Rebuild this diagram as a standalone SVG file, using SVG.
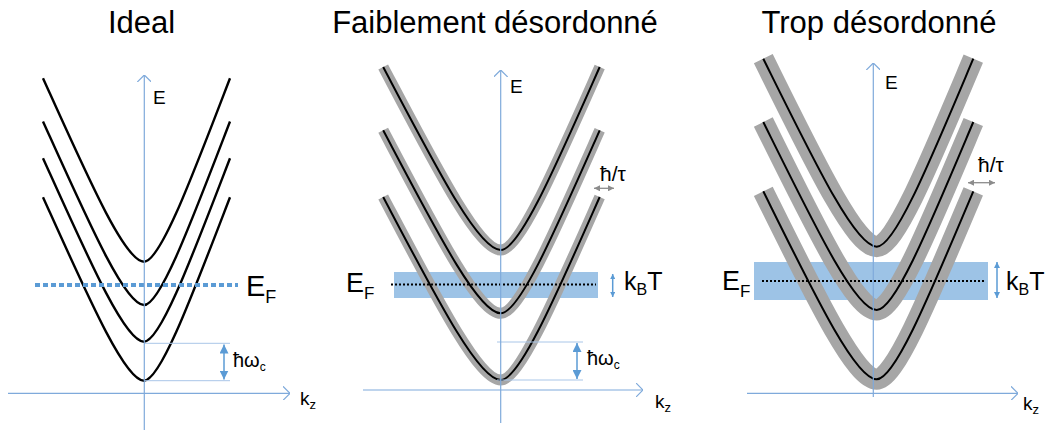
<svg xmlns="http://www.w3.org/2000/svg" width="1049" height="433" viewBox="0 0 1049 433">
<style>
  text { font-family: "Liberation Sans", Arial, sans-serif; fill: #000; }
  .title { font-size: 31px; text-anchor: middle; }
  .lbl { font-size: 19px; }
  .axis { stroke: #7FAADB; stroke-width: 1.2; fill: none; }
  .thin { stroke: #A9C6E8; stroke-width: 1; fill: none; }
  .black { stroke: #000; stroke-width: 2.4; fill: none; }
  .black2 { stroke: #000; stroke-width: 2; fill: none; }
  .gray2 { stroke: #A6A6A6; stroke-width: 11; fill: none; stroke-linecap: butt; }
  .gray3 { stroke: #A6A6A6; stroke-width: 21; fill: none; stroke-linecap: butt; }
  .band { fill: #9DC3E6; }
  .dots { stroke: #000; stroke-width: 2; stroke-dasharray: 2 2; fill: none; }
  .bdash { stroke: #5B9BD5; stroke-width: 4; stroke-dasharray: 5 3; fill: none; }
  .barrow { stroke: #5B9BD5; stroke-width: 1.5; fill: none; }
  .garrow { stroke: #8C8C8C; stroke-width: 1.3; fill: none; }
</style>
<defs>
  <marker id="chev" viewBox="0 0 7 14" refX="7" refY="7" markerWidth="7" markerHeight="14" markerUnits="userSpaceOnUse" orient="auto">
    <path d="M0,0 L7,7 L0,14" fill="none" stroke="#7FAADB" stroke-width="1.2"/>
  </marker>
  <marker id="tb" viewBox="0 0 10 10" refX="10" refY="5" markerWidth="9" markerHeight="9" markerUnits="userSpaceOnUse" orient="auto-start-reverse">
    <path d="M0,0 L10,5 L0,10 z" fill="#5B9BD5"/>
  </marker>
  <marker id="ts" viewBox="0 0 10 10" refX="10" refY="5" markerWidth="5" markerHeight="5" markerUnits="userSpaceOnUse" orient="auto-start-reverse">
    <path d="M0,0 L10,5 L0,10 z" fill="#5B9BD5"/>
  </marker>
  <marker id="tm" viewBox="0 0 10 10" refX="10" refY="5" markerWidth="6" markerHeight="6" markerUnits="userSpaceOnUse" orient="auto-start-reverse">
    <path d="M0,0 L10,5 L0,10 z" fill="#5B9BD5"/>
  </marker>
  <marker id="tg" viewBox="0 0 10 10" refX="10" refY="5" markerWidth="6" markerHeight="6" markerUnits="userSpaceOnUse" orient="auto-start-reverse">
    <path d="M0,0 L10,5 L0,10 z" fill="#8C8C8C"/>
  </marker>
  <path id="p1" d="M-101,-183.5 C-55.55,-82.94 -19.19,0 0,0 C16.34,0 47.3,-82.94 86,-183.5"/>
  <path id="p2" d="M-117.5,-183 C-64.6,-82.7 -22.3,0 0,0 C18.8,0 54.5,-82.7 99,-183"/>
  <path id="p3" d="M-113.4,-188 C-62.4,-85 -21.5,0 0,0 C18.4,0 53.1,-85 96.6,-188"/>
</defs>

<g id="panel-ideal">
  <text class="title" x="141.5" y="33">Ideal</text>
  <g id="ideal-bands">
    <use href="#p1" class="black" transform="translate(144,261.7)"/>
    <use href="#p1" class="black" transform="translate(144,305)"/>
    <use href="#p1" class="black" transform="translate(144,341.7)"/>
    <use href="#p1" class="black" transform="translate(144,380.7)"/>
  </g>
  <g id="ideal-fermi">
    <line class="bdash" x1="35" y1="285" x2="238" y2="285"/>
    <text x="246" y="296" font-size="29">E<tspan font-size="18" dy="7">F</tspan></text>
  </g>
  <g id="ideal-hwc">
    <line class="thin" x1="144" y1="343.3" x2="230" y2="343.3"/>
    <line class="thin" x1="144" y1="380.7" x2="230" y2="380.7"/>
    <line class="barrow" x1="224" y1="344.5" x2="224" y2="379.5" marker-start="url(#tb)" marker-end="url(#tb)"/>
    <text x="233" y="367" font-size="20">ħω<tspan font-size="12" dy="4">c</tspan></text>
  </g>
</g>

<g id="panel-faible">
  <text class="title" x="495" y="33">Faiblement désordonné</text>
  <rect class="band" x="394" y="272" width="204" height="26"/>
  <g id="faible-bands">
    <use href="#p2" class="gray2" transform="translate(500.7,250)"/>
    <use href="#p2" class="black2" transform="translate(500.7,250)"/>
    <use href="#p2" class="gray2" transform="translate(500.7,313.3)"/>
    <use href="#p2" class="black2" transform="translate(500.7,313.3)"/>
    <use href="#p2" class="gray2" transform="translate(500.7,380)"/>
    <use href="#p2" class="black2" transform="translate(500.7,380)"/>
  </g>
  <g id="faible-fermi">
    <line class="dots" x1="391" y1="284.5" x2="596" y2="284.5"/>
    <text x="346" y="292" font-size="27">E<tspan font-size="17" dy="7">F</tspan></text>
    <line class="barrow" x1="612.7" y1="274" x2="612.7" y2="297" stroke-width="1" marker-start="url(#ts)" marker-end="url(#ts)"/>
    <text x="624" y="290" font-size="25">k<tspan font-size="16" dy="5">B</tspan><tspan dy="-5">T</tspan></text>
  </g>
  <g id="faible-tau">
    <line class="garrow" x1="594" y1="188.3" x2="614" y2="188.3" marker-start="url(#tg)" marker-end="url(#tg)"/>
    <text x="600" y="181" font-size="21">ħ/τ</text>
  </g>
  <g id="faible-hwc">
    <line class="thin" x1="497" y1="342" x2="583" y2="342"/>
    <line class="thin" x1="497" y1="380" x2="583" y2="380"/>
    <line class="barrow" x1="577" y1="343" x2="577" y2="379" marker-start="url(#tb)" marker-end="url(#tb)"/>
    <text x="587" y="365" font-size="20">ħω<tspan font-size="12" dy="4">c</tspan></text>
  </g>
</g>

<g id="panel-trop">
  <text class="title" x="879" y="33">Trop désordonné</text>
  <rect class="band" x="754" y="262" width="234" height="38"/>
  <g id="trop-bands">
    <use href="#p3" class="gray3" transform="translate(876.7,246.7)"/>
    <use href="#p3" class="black2" transform="translate(876.7,246.7)"/>
    <use href="#p3" class="gray3" transform="translate(876.7,310)"/>
    <use href="#p3" class="black2" transform="translate(876.7,310)"/>
    <use href="#p3" class="gray3" transform="translate(876.7,379.3)"/>
    <use href="#p3" class="black2" transform="translate(876.7,379.3)"/>
  </g>
  <g id="trop-fermi">
    <line class="dots" x1="762" y1="281" x2="985" y2="281"/>
    <text x="722" y="290" font-size="27">E<tspan font-size="17" dy="7">F</tspan></text>
    <line class="barrow" x1="997" y1="262" x2="997" y2="298" stroke-width="1" marker-start="url(#tm)" marker-end="url(#tm)"/>
    <text x="1006" y="290" font-size="25">k<tspan font-size="16" dy="5">B</tspan><tspan dy="-5">T</tspan></text>
  </g>
  <g id="trop-tau">
    <line class="garrow" x1="968" y1="182.7" x2="995" y2="182.7" marker-start="url(#tg)" marker-end="url(#tg)"/>
    <text x="978" y="172" font-size="21">ħ/τ</text>
  </g>
</g>

<g id="connectors">
  <line class="axis" x1="144.3" y1="430" x2="144.3" y2="75" marker-end="url(#chev)"/>
  <line class="axis" x1="8" y1="393.3" x2="290" y2="393.3" marker-end="url(#chev)"/>
  <line class="axis" x1="500.7" y1="423" x2="500.7" y2="70" marker-end="url(#chev)"/>
  <line class="axis" x1="363" y1="390" x2="643" y2="390" marker-end="url(#chev)"/>
  <line class="axis" x1="873.3" y1="397" x2="873.3" y2="63" marker-end="url(#chev)"/>
  <line class="axis" x1="747" y1="393.3" x2="1018" y2="393.3" marker-end="url(#chev)"/>
</g>
<g id="axis-labels">
  <text class="lbl" x="153" y="104">E</text>
  <text class="lbl" x="300" y="405">k<tspan font-size="13" dy="4">z</tspan></text>
  <text class="lbl" x="510" y="93">E</text>
  <text class="lbl" x="655" y="408">k<tspan font-size="13" dy="4">z</tspan></text>
  <text class="lbl" x="885" y="89">E</text>
  <text class="lbl" x="1023" y="410">k<tspan font-size="13" dy="4">z</tspan></text>
</g>
</svg>
